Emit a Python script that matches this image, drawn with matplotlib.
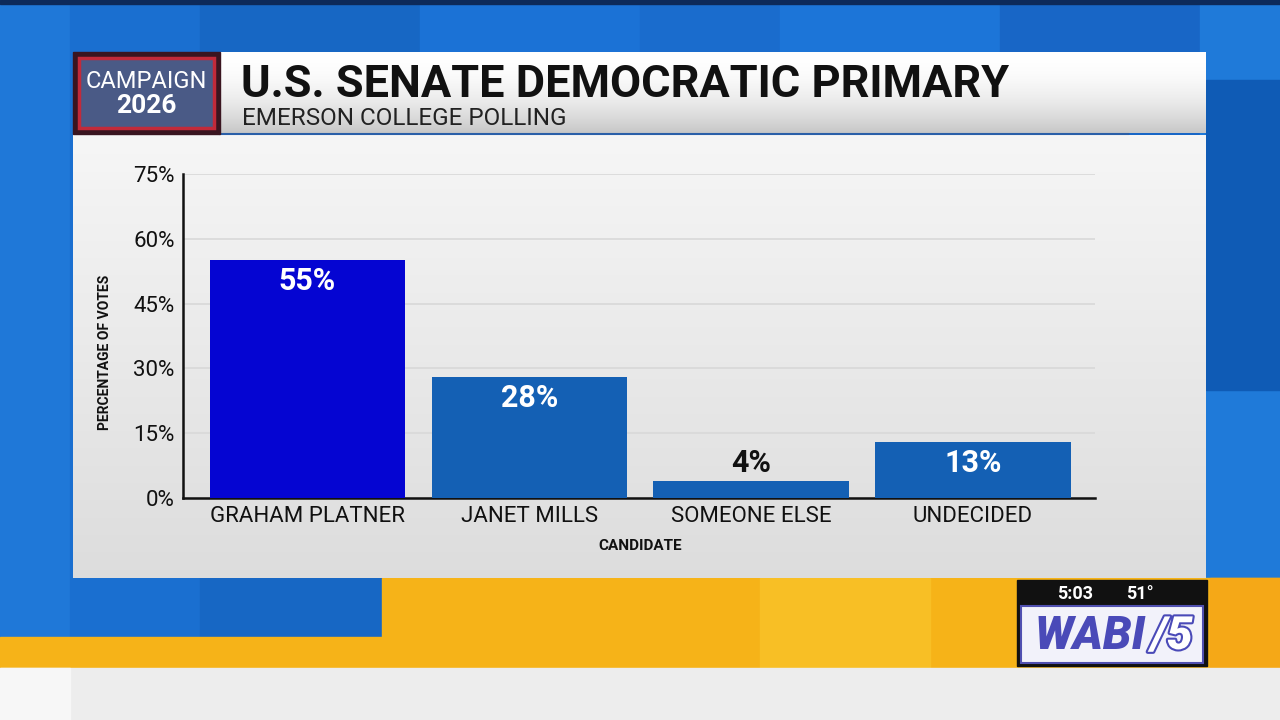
import numpy as np
import matplotlib.pyplot as plt
from matplotlib.patches import Rectangle

# Data
candidates = ['GRAHAM PLATNER', 'JANET MILLS', 'SOMEONE ELSE', 'UNDECIDED']
votes = [55, 28, 4, 13]
bar_colors = ['#0505d2', '#1460b4', '#1460b4', '#1460b4']
y_ticks = [0, 15, 30, 45, 60, 75]
title = 'U.S. SENATE DEMOCRATIC PRIMARY'
subtitle = 'EMERSON COLLEGE POLLING'

plt.rcParams['font.family'] = ['Roboto', 'DejaVu Sans']

W, H = 1280, 720
fig = plt.figure(figsize=(12.8, 7.2), dpi=100)

# Background layer in pixel coordinates
bg = fig.add_axes([0, 0, 1, 1])
bg.set_xlim(0, W)
bg.set_ylim(H, 0)
bg.axis('off')

# blue backdrop with vertical stripes
stripes = [(0, 70, '#1f78d8'), (70, 200, '#1a6fd0'), (200, 420, '#1767c4'),
           (420, 640, '#1b72d6'), (640, 780, '#1a6ccd'), (780, 1000, '#1c75d8'),
           (1000, 1200, '#1866c6'), (1200, 1280, '#1f7ad9')]
for x0, x1, c in stripes:
    bg.add_patch(Rectangle((x0, 0), x1 - x0, 640, color=c, zorder=0))
bg.add_patch(Rectangle((0, 0), W, 4, color='#0d2a5a', zorder=1))
bg.add_patch(Rectangle((1206, 80), 74, 310, color='#0f5bb5', zorder=1))

# yellow band
bg.add_patch(Rectangle((382, 578), 898, 90, color='#f6b318', zorder=1))
bg.add_patch(Rectangle((0, 637), 382, 31, color='#f6b318', zorder=1))
bg.add_patch(Rectangle((760, 578), 170, 90, color='#f8bf25', zorder=1))
bg.add_patch(Rectangle((1210, 578), 70, 90, color='#f5a817', zorder=1))
bg.add_patch(Rectangle((0, 668), W, 52, color='#ededed', zorder=1))
bg.add_patch(Rectangle((0, 668), 70, 52, color='#f7f7f7', zorder=1))

# main panel gradient
grad = np.linspace(0, 1, 256).reshape(-1, 1)
panel = np.dstack([0.965 - 0.1 * grad] * 3)
bg.imshow(panel, extent=(73, 1206, 578, 135), aspect='auto', zorder=2)
head = np.dstack([1.0 - 0.22 * grad ** 2] * 3)
bg.imshow(head, extent=(220, 1206, 133, 52), aspect='auto', zorder=2)
bg.plot([220, 1128], [134, 134], color='#2a5fa8', lw=1.5, zorder=3)

# campaign logo
bg.add_patch(Rectangle((73, 52), 147, 82, color='#3a1520', zorder=3))
bg.add_patch(Rectangle((79, 58), 135, 70, facecolor='#4a5a86',
                       edgecolor='#c22a3a', lw=2.5, zorder=4))
bg.text(146, 82, 'CAMPAIGN', color='white', fontsize=17, ha='center',
        va='center', zorder=5)
bg.text(146, 106, '2026', color='white', fontsize=19, fontweight='bold',
        ha='center', va='center', zorder=5)

# header text
bg.text(241, 97, title, color='#111111', fontsize=32.5, fontweight='bold',
        ha='left', va='baseline', zorder=5)
bg.text(242, 125, subtitle, color='#222222', fontsize=17.5,
        ha='left', va='baseline', zorder=5)

# station bug
bg.add_patch(Rectangle((1017, 580), 190, 86, color='#111111', zorder=3))
bg.add_patch(Rectangle((1021, 606), 182, 57, facecolor='#f2f2fa',
                       edgecolor='#5050b0', lw=1.5, zorder=4))
bg.text(1075, 594, '5:03', color='white', fontsize=13, fontweight='bold',
        ha='center', va='center', zorder=5)
bg.text(1140, 594, '51°', color='white', fontsize=13, fontweight='bold',
        ha='center', va='center', zorder=5)
bg.text(1090, 636, 'WABI', color='#4a4ab8', fontsize=33, fontweight='black',
        fontstyle='italic', ha='center', va='center', zorder=5)
bg.text(1172, 636, '/5', color='white', fontsize=33, fontweight='black',
        fontstyle='italic', ha='center', va='center', zorder=5,
        path_effects=[__import__('matplotlib.patheffects', fromlist=['x']).withStroke(
            linewidth=3, foreground='#4a4ab8')])

# Chart axes
ax = fig.add_axes([183 / W, 1 - 498 / H, 912 / W, 324 / H])
ax.patch.set_alpha(0)
x = np.arange(len(candidates))
ax.bar(x, votes, width=0.88, color=bar_colors, zorder=3)
ax.set_xlim(-0.56, 3.55)
ax.set_ylim(0, 75)
ax.set_yticks(y_ticks)
ax.set_yticklabels([f'{t}%' for t in y_ticks])
ax.set_xticks(x)
ax.set_xticklabels(candidates)
ax.tick_params(axis='both', length=0, labelsize=16, colors='#111111')
ax.tick_params(axis='y', pad=6)
ax.tick_params(axis='x', pad=6)
ax.grid(axis='y', color='#d8d8d8', lw=1.2, zorder=0)
for s in ['top', 'right']:
    ax.spines[s].set_visible(False)
for s in ['left', 'bottom']:
    ax.spines[s].set_color('#111111')
    ax.spines[s].set_linewidth(1.8)

ax.set_ylabel('PERCENTAGE OF VOTES', fontsize=10, fontweight='bold', color='#111111')
ax.yaxis.set_label_coords(-0.078, 0.45)
ax.set_xlabel('CANDIDATE', fontsize=11, fontweight='bold', color='#111111')
ax.xaxis.set_label_coords(0.501, -0.125)

for xi, v in zip(x, votes):
    if v >= 10:
        ax.annotate(f'{v}%', (xi, v), xytext=(0, -15), textcoords='offset points',
                    ha='center', va='center', color='white', fontsize=22,
                    fontweight='bold', zorder=5)
    else:
        ax.annotate(f'{v}%', (xi, v), xytext=(0, 13), textcoords='offset points',
                    ha='center', va='center', color='#111111', fontsize=22,
                    fontweight='bold', zorder=5)

fig.savefig('out.png', dpi=100)
